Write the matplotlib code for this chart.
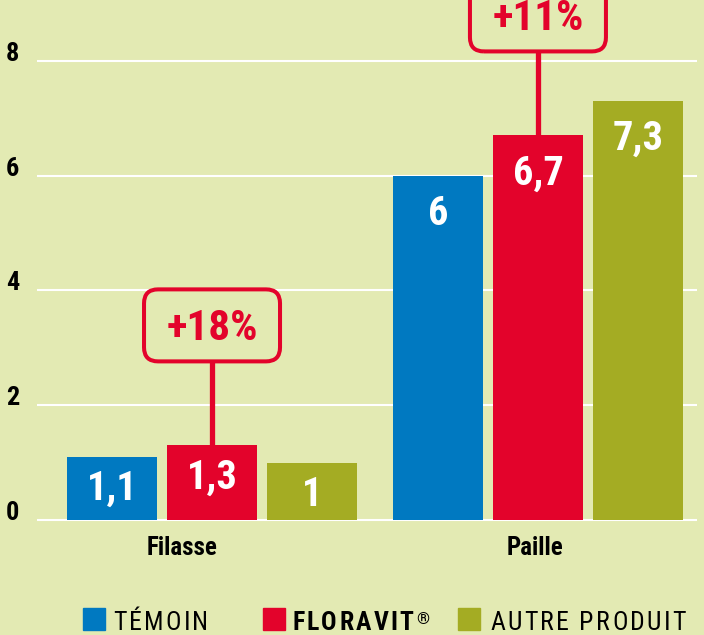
import matplotlib
matplotlib.use('Agg')
import matplotlib.pyplot as plt
from matplotlib.patches import FancyBboxPatch, Rectangle
from matplotlib.lines import Line2D
from matplotlib.transforms import IdentityTransform
import numpy as np

# ---------------- data ----------------
categories = ['Filasse', 'Paille']
series_names = ['TÉMOIN', 'FLORAVIT', 'AUTRE PRODUIT']
temoin = [1.1, 6.0]
floravit = [1.3, 6.7]
autre = [1.0, 7.3]
labels_temoin = ['1,1', '6']
labels_floravit = ['1,3', '6,7']
labels_autre = ['1', '7,3']
gains = ['+18%', '+11%']
yticks = [0, 2, 4, 6, 8]

# ---------------- style ----------------
FONT = ['Roboto Condensed', 'Barlow Semi Condensed', 'Barlow Condensed', 'DejaVu Sans']
plt.rcParams['font.family'] = FONT
BG = '#e3eab3'
BLUE = '#0079c1'
RED = '#e3032b'
OLIVE = '#a4ac23'
colors = [BLUE, RED, OLIVE]

W, H = 704, 635
PX_PER_UNIT = 57.4
fig = plt.figure(figsize=(W / 100, H / 100), dpi=100, facecolor=BG)
ax = fig.add_axes([37 / W, (H - 529) / H, 660 / W, 529 / H])
ax.set_facecolor(BG)
ax.set_xlim(-0.537, 1.488)
ax.set_ylim(-9 / PX_PER_UNIT, 520 / PX_PER_UNIT)
for s in ax.spines.values():
    s.set_visible(False)

ax.set_yticks(yticks)
ax.set_yticklabels([str(v) for v in yticks], fontsize=19, fontweight='bold', family=FONT)
for lab in ax.get_yticklabels():
    lab.set_va('baseline')
ax.tick_params(axis='y', length=0, pad=13)
ax.grid(axis='y', color='white', lw=1.5)
ax.grid(axis='x', visible=False)
ax.set_axisbelow(True)

x = np.arange(len(categories))
ax.set_xticks(x)
ax.set_xticklabels([''] * len(categories))
ax.tick_params(axis='x', length=0)
cat_dx = [-30, -3]          # horizontal offsets of category labels (px)
for xi, cat, dx in zip(x, categories, cat_dx):
    ax.annotate(cat, (xi, 0), xytext=(dx, -35), textcoords='offset pixels',
                ha='center', va='baseline', fontsize=18, fontweight='bold',
                family=FONT, color='black', annotation_clip=False)

width = 0.276
step = 0.307
label_drop = [43, 49]       # baseline drop of value labels below bar tops (px)
series = [temoin, floravit, autre]
series_labels = [labels_temoin, labels_floravit, labels_autre]
for k, (vals, labs, c) in enumerate(zip(series, series_labels, colors)):
    xs = x + (k - 1) * step
    ax.bar(xs, vals, width=width, color=c, zorder=3)
    for xi, v, lab, dr in zip(xs, vals, labs, label_drop):
        ax.annotate(lab, (xi, v), xytext=(0, -dr), textcoords='offset pixels',
                    ha='center', va='baseline', color='white', fontsize=29,
                    fontweight='bold', family=FONT, zorder=4)

# gain callouts
ident = IdentityTransform()
for xi, v, g in zip(x, floravit, gains):
    px, py = ax.transData.transform((xi, v))
    stem = 84
    bw, bh = 136, 72
    fig.add_artist(Line2D([px, px], [py, py + stem], color=RED, lw=3.8,
                          transform=ident, solid_capstyle='butt'))
    box = FancyBboxPatch((px - bw / 2, py + stem), bw, bh,
                         boxstyle='round,pad=0,rounding_size=14',
                         transform=ident, fill=False, ec=RED, lw=2.9)
    fig.add_artist(box)
    fig.text(px, py + stem + bh / 2 - 15, g, transform=ident, ha='center',
             va='baseline', color=RED, fontsize=31, fontweight='bold', family=FONT)

# legend (manual, letter-spaced)
renderer = fig.canvas.get_renderer()


def spaced(x0, y0, s, spacing, **kw):
    xx = x0
    for ch in s:
        if ch == ' ':
            xx += 6 + spacing
            continue
        t = fig.text(xx, y0, ch, transform=ident, ha='left', va='baseline', **kw)
        xx += t.get_window_extent(renderer).width + spacing
    return xx


base_y = H - 630
sq = [(83, BLUE), (263, RED), (458, OLIVE)]
txt_x = [113, 292, 490]
weights = ['normal', 'bold', 'normal']
for (sx, c), tx, name, wgt in zip(sq, txt_x, series_names, weights):
    fig.add_artist(Rectangle((sx, base_y), 22, 22, transform=ident, color=c))
    end = spaced(tx, base_y, name, 2.3, fontsize=18.5, fontweight=wgt, family=FONT, color='black')
    if wgt == 'bold':
        fig.text(end, base_y + 6, '®', transform=ident, ha='left', va='baseline',
                 fontsize=12, fontweight='bold', family=FONT, color='black')

fig.savefig('out.png', dpi=100, facecolor=BG)
